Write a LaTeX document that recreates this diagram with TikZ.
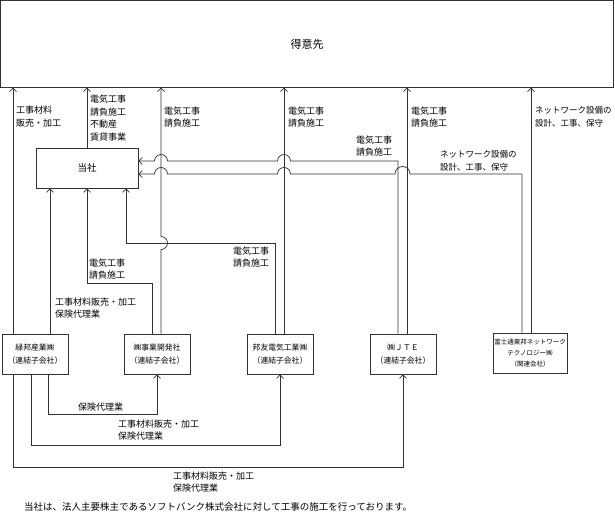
\documentclass[tikz,border=0pt]{standalone}
\usepackage{fontspec}
\setmainfont{Noto Sans CJK JP}
\usetikzlibrary{arrows.meta}
\tikzset{
	box/.style={draw=black!80,line width=0.7pt,inner sep=0pt},
	firmbox/.style={box,minimum width=66pt,minimum height=40pt,align=center,font=\fontsize{7.8}{12.5}\selectfont},
	lab/.style={inner sep=0pt,align=left,anchor=west,font=\fontsize{9}{12.5}\selectfont},
	netlab/.style={lab,font=\fontsize{8.5}{12.5}\selectfont},
	flow/.style={draw=black!80,line width=0.7pt,arrows={-Straight Barb[length=3.5pt,width=7pt]}},
}
\newcommand{\firm}[3]{\node[firmbox](#1) at (#3,354) {#2};}
\newcommand{\flowlab}[4]{\node[lab](#1) at (#3,#4) {#2};}

\begin{document}
\begin{tikzpicture}[x=1pt,y=-1pt]
	\useasboundingbox (0,0) rectangle (615,516);
	\node[box,minimum width=613pt,minimum height=86.5pt,font=\fontsize{11}{13}\selectfont](tokui) at (307,44) {得意先};
	\node[box,minimum width=102pt,minimum height=40pt,font=\fontsize{9.5}{12}\selectfont](tosha) at (87,168) {当社};

	\firm{ryoku}{緑邦産業㈱\\（連結子会社）}{35}
	\firm{jigyo}{㈱事業開発社\\（連結子会社）}{157}
	\firm{hoyu}{邦友電気工業㈱\\（連結子会社）}{280}
	\firm{jte}{㈱ＪＴＥ\\（連結子会社）}{403}
	\node[firmbox,minimum width=74pt,font=\fontsize{6.5}{11}\selectfont](fujitsu) at (530,353) {富士通東邦ネットワーク\\テクノロジー㈱\\（関連会社）};

	\draw[flow] (ryoku.north -| 13,0) to (tokui.south -| 13,0);
	\draw[flow] (tosha.north) to (tokui.south -| tosha.north);
	\draw[flow] (jigyo.north -| 161,0) -- (161,249.5) arc[start angle=-90,end angle=90,radius=6.5pt] -- (tokui.south -| 161,0);
	\draw[flow] (hoyu.north -| 284,0) to (tokui.south -| 284,0);
	\draw[flow] (jte.north -| 407,0) to (tokui.south -| 407,0);
	\draw[flow] (fujitsu.north -| 531,0) to (tokui.south -| 531,0);

	\draw[flow] (ryoku.north -| 50,0) to (tosha.south -| 50,0);
	\draw[flow] (jigyo.north -| 152,0) |- (87,283) -- (tosha.south -| 87,0);
	\draw[flow] (hoyu.north -| 275,0) |- (126,243) -- (tosha.south -| 126,0);
	\draw[flow] (jte.north -| 398,0) -- (398,161) -- (290.5,161) arc[start angle=0,end angle=180,radius=6.5pt] -- (167.5,161) arc[start angle=0,end angle=180,radius=6.5pt] -- (tosha.east |- 0,161);
	\draw[flow] (fujitsu.north -| 522,0) -- (522,174) -- (410,174) arc[start angle=0,end angle=180,radius=7.5pt] -- (290.5,174) arc[start angle=0,end angle=180,radius=6.5pt] -- (167.5,174) arc[start angle=0,end angle=180,radius=6.5pt] -- (tosha.east |- 0,174);

	\draw[flow] (ryoku.south -| 48,0) |- (157,414) -- (jigyo.south);
	\draw[flow] (ryoku.south -| 31,0) |- (280,445) -- (hoyu.south);
	\draw[flow] (ryoku.south -| 13,0) |- (403,467) -- (jte.south);

	\flowlab{l_ryoku}{工事材料\\販売・加工}{16}{116.5}
	\flowlab{l_tosha}{電気工事\\請負施工\\不動産\\賃貸事業}{90}{118}
	\flowlab{l_jigyo}{電気工事\\請負施工}{164}{117}
	\flowlab{l_hoyu}{電気工事\\請負施工}{288}{117}
	\flowlab{l_jte}{電気工事\\請負施工}{411}{117}
	\node[netlab](l_fujitsu) at (535,117) {ネットワーク設備の\\設計、工事、保守};
	\flowlab{l_jte2}{電気工事\\請負施工}{356}{146}
	\node[netlab](l_fujitsu2) at (440,161) {ネットワーク設備の\\設計、工事、保守};
	\flowlab{l_jigyo2}{電気工事\\請負施工}{89}{269}
	\flowlab{l_hoyu2}{電気工事\\請負施工}{233}{257}
	\flowlab{l_ryoku2}{工事材料販売・加工\\保険代理業}{55}{308}
	\flowlab{l_ryoku3}{保険代理業}{78}{407}
	\flowlab{l_ryoku4}{工事材料販売・加工\\保険代理業}{118}{430}
	\flowlab{l_ryoku5}{工事材料販売・加工\\保険代理業}{173}{482}
	\node[lab,font=\fontsize{9.5}{12}\selectfont](remark) at (24,507) {当社は、法人主要株主であるソフトバンク株式会社に対して工事の施工を行っております。};
\end{tikzpicture}
\end{document}
